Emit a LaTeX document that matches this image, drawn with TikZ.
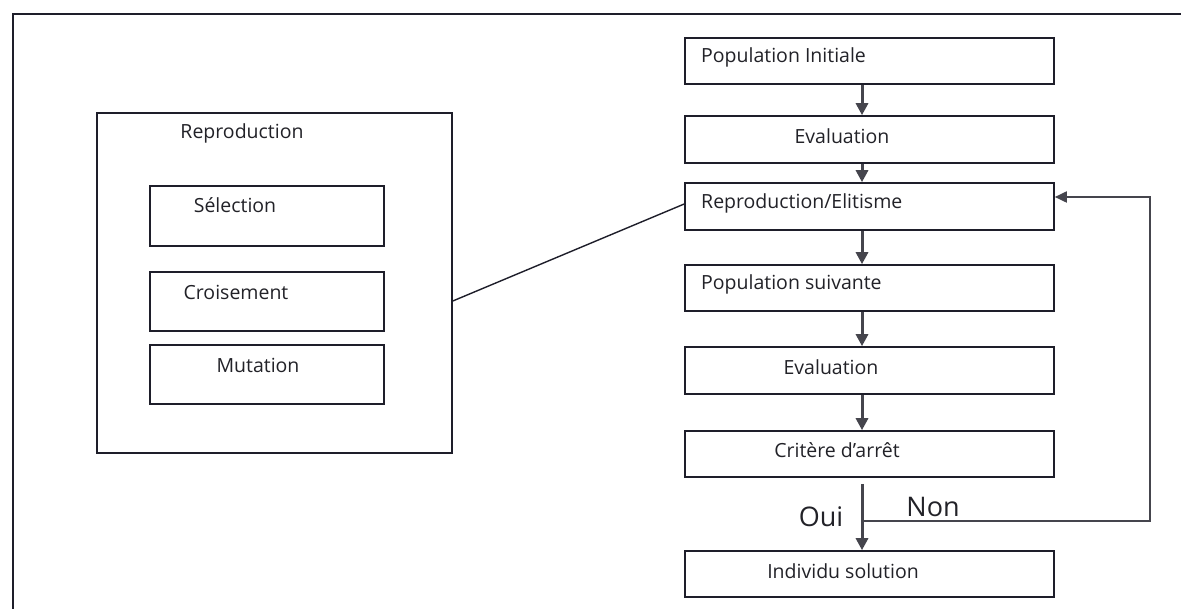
\documentclass[tikz,border=0pt]{standalone}
\usepackage{fontspec}
\setmainfont{Open Sans}
\usetikzlibrary{arrows.meta,calc,fit}
\definecolor{boxline}{HTML}{1E1E2A}
\definecolor{ink}{HTML}{222228}
\definecolor{arrowgray}{HTML}{45454D}
\begin{document}
\begin{tikzpicture}[x=1pt,y=-1pt,
  box/.style={draw=boxline,line width=1.6pt,inner sep=0pt,rectangle},
  lbl/.style={font=\fontsize{19.5}{22}\selectfont,text=ink,inner sep=0pt},
  big/.style={font=\fontsize{27}{30}\selectfont,text=ink,inner sep=0pt},
  flow/.style={draw=arrowgray,line width=3pt,-{Triangle[length=12pt,width=12pt]}},
  link/.style={draw=boxline,line width=1.4pt},
]
\useasboundingbox (0,0) rectangle (1181,609);
\fill[white] (0,0) rectangle (1181,609);

% outer frame (open at the right and bottom)
\draw[boxline,line width=1.6pt] (13,609) -- (13,14) -- (1181,14);

% reproduction detail (left)
\node[box,fit={(97,113) (452,453)}] (repbig) {};
\node[box,fit={(150,186) (384,246)}] (sel) {};
\node[box,fit={(150,272) (384,331)}] (crois) {};
\node[box,fit={(150,345) (384,404)}] (mut) {};
\node[lbl] (trep) at (242,133) {Reproduction};
\node[lbl] (tsel) at (235,205) {Sélection};
\node[lbl] (tcrois) at (236,292) {Croisement};
\node[lbl] (tmut) at (258,365) {Mutation};

% main flow (right)
\node[box,fit={(685,38) (1054,84)}] (pinit) {};
\node[box,fit={(685,116) (1054,163)}] (eval) {};
\node[box,fit={(685,183) (1054,230)}] (repro) {};
\node[box,fit={(685,265) (1054,311)}] (psuiv) {};
\node[box,fit={(685,347) (1054,394)}] (evaltwo) {};
\node[box,fit={(685,431) (1054,477)}] (crit) {};
\node[box,fit={(685,551) (1054,597)}] (indiv) {};

\node[lbl,anchor=west] (tpinit) at (701,57) {Population Initiale};
\node[lbl] (teval) at (842,136) {Evaluation};
\node[lbl,anchor=west] (trepro) at (701,203) {Reproduction/Elitisme};
\node[lbl,anchor=west] (tpsuiv) at (701,284) {Population suivante};
\node[lbl] (tevaltwo) at (831,367) {Evaluation};
\node[lbl] (tcrit) at (837,450) {Critère d’arrêt};
\node[lbl] (tindiv) at (843,571) {Individu solution};

% arrows between steps
\draw[flow] (pinit.south -| 862,0) -- (eval.north -| 862,0);
\draw[flow] (eval.south -| 862,0) -- (repro.north -| 862,0);
\draw[flow] (repro.south -| 862,0) -- (psuiv.north -| 862,0);
\draw[flow] (psuiv.south -| 862,0) -- (evaltwo.north -| 862,0);
\draw[flow] (evaltwo.south -| 862,0) -- (crit.north -| 862,0);
\draw[flow,shorten <=6pt] (crit.south -| 862,0) -- (indiv.north -| 862,0);

% loop back when the criterion is not met
\coordinate (nonstart) at (862,521);
\coordinate (loopcorner) at (1150,521);
\coordinate (looptop) at (1150,197);
\draw[draw=arrowgray,line width=1.8pt,-{Triangle[length=12pt,width=11pt]}]
  (nonstart) -- (loopcorner) -- (looptop) -- (repro.east |- looptop);

\node[big] (toui) at (821,517) {Oui};
\node[big] (tnon) at (933,507) {Non};

% link from the detail box to the reproduction step
\draw[link] (repbig.east |- 0,301) -- (repro.west |- 0,204);
\end{tikzpicture}
\end{document}
